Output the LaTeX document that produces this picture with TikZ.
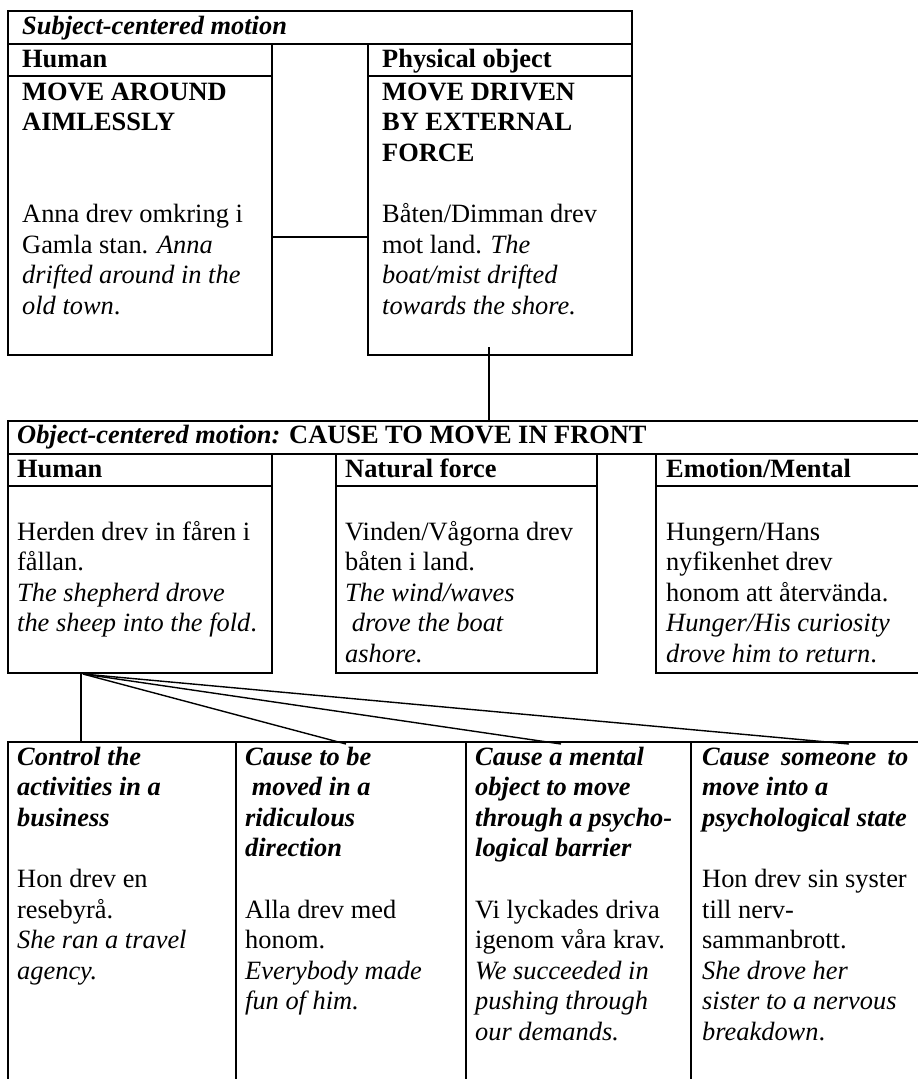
\documentclass[tikz,border=0pt]{standalone}
\usepackage{fontspec}
\setmainfont{Liberation Serif}
\newcommand\bodyfont{\fontsize{26.4}{30.6}\selectfont}
\newcommand\emphbi[1]{\textbf{\textit{#1}}}
\newcommand\linesof[1]{\begin{tabular}[t]{@{}l@{}}#1\end{tabular}}
\begin{document}
\begin{tikzpicture}[x=1pt,y=-1pt,
  cellbox/.style={draw, line width=2pt, rectangle, inner sep=0pt, anchor=north west},
  txt/.style={anchor=base west, inner sep=0pt, font=\bodyfont},
  link/.style={line width=1.4pt}]
\clip (0,0) rectangle (918,1079);
\fill[white] (0,0) rectangle (918,1079);

% ---- subject-centered motion ----
\node[cellbox, minimum width=624pt, minimum height=33pt] (title1) at (7,10) {};
\node[cellbox, minimum width=264pt, minimum height=32pt] (hum1h) at (7,43) {};
\node[cellbox, minimum width=264pt, minimum height=279pt] (hum1) at (7,75) {};
\node[cellbox, minimum width=264pt, minimum height=32pt] (phys1h) at (367,43) {};
\node[cellbox, minimum width=264pt, minimum height=279pt] (phys1) at (367,75) {};

\node[txt] (title1t) at (22,34) {\emphbi{Subject-centered motion}};
\node[txt] (hum1ht) at (22,67) {\textbf{Human}};
\node[txt] (phys1ht) at (382,67) {\textbf{Physical object}};
\node[txt] (hum1t) at (22,100) {\linesof{\textbf{MOVE AROUND}\\ \textbf{AIMLESSLY}\\ \\ \\
  Anna drev omkring i\\ Gamla stan. \textit{Anna}\\ \textit{drifted around in the}\\ \textit{old town}.}};
\node[txt] (phys1t) at (382,100) {\linesof{\textbf{MOVE DRIVEN}\\ \textbf{BY EXTERNAL}\\ \textbf{FORCE}\\ \\
  Båten/Dimman drev\\ mot land. \textit{The}\\ \textit{boat/mist drifted}\\ \textit{towards the shore.}}};

% ---- object-centered motion ----
\node[cellbox, minimum width=918pt, minimum height=33pt] (title2) at (7,420) {};
\node[cellbox, minimum width=264pt, minimum height=32pt] (hum2h) at (7,453) {};
\node[cellbox, minimum width=264pt, minimum height=187pt] (hum2) at (7,485) {};
\node[cellbox, minimum width=261pt, minimum height=32pt] (nat2h) at (335,453) {};
\node[cellbox, minimum width=261pt, minimum height=187pt] (nat2) at (335,485) {};
\node[cellbox, minimum width=270pt, minimum height=32pt] (emo2h) at (655,453) {};
\node[cellbox, minimum width=270pt, minimum height=187pt] (emo2) at (655,485) {};

\node[txt] (title2t) at (17,443) {\emphbi{Object-centered motion:} \textbf{CAUSE TO MOVE IN FRONT}};
\node[txt] (hum2ht) at (17,477) {\textbf{Human}};
\node[txt] (nat2ht) at (345,477) {\textbf{Natural force}};
\node[txt] (emo2ht) at (666,477) {\textbf{Emotion/Mental}};
\node[txt] (hum2t) at (17,540) {\linesof{Herden drev in fåren i\\ fållan.\\
  \textit{The shepherd drove}\\ \textit{the sheep into the fold}.}};
\node[txt] (nat2t) at (345,540) {\linesof{Vinden/Vågorna drev\\ båten i land.\\
  \textit{The wind/waves}\\ \hspace{0.25em}\textit{drove the boat}\\ \textit{ashore.}}};
\node[txt] (emo2t) at (666,540) {\linesof{Hungern/Hans\\ nyfikenhet drev\\ honom att återvända.\\
  \textit{Hunger/His curiosity}\\ \textit{drove him to return}.}};

% ---- senses ----
\node[cellbox, minimum width=228pt, minimum height=350pt] (col1) at (7,741) {};
\node[cellbox, minimum width=230pt, minimum height=350pt] (col2) at (235,741) {};
\node[cellbox, minimum width=225pt, minimum height=350pt] (col3) at (465,741) {};
\node[cellbox, minimum width=235pt, minimum height=350pt] (col4) at (690,741) {};

\node[txt] (col1t) at (17,765) {\linesof{\emphbi{Control the}\\ \emphbi{activities in a}\\ \emphbi{business}\\ \\
  Hon drev en\\ resebyrå.\\ \textit{She ran a travel}\\ \textit{agency.}}};
\node[txt] (col2t) at (245,765) {\linesof{\emphbi{Cause to be}\\ \hspace{0.25em}\emphbi{moved in a}\\ \emphbi{ridiculous}\\ \emphbi{direction}\\ \\
  Alla drev med\\ honom.\\ \textit{Everybody made}\\ \textit{fun of him.}}};
\node[txt] (col3t) at (475,765) {\linesof{\emphbi{Cause a mental}\\ \emphbi{object to move}\\
  \makebox[197pt][s]{\bfseries\itshape through a psycho-}\\ \emphbi{logical barrier}\\ \\
  Vi lyckades driva\\ igenom våra krav.\\ \textit{We succeeded in}\\ \textit{pushing through}\\ \textit{our demands.}}};
\node[txt] (col4t) at (702,765) {\linesof{\makebox[206pt][s]{\bfseries\itshape Cause someone to}\\ \emphbi{move into a}\\ \emphbi{psychological state}\\ \\
  Hon drev sin syster\\ till nerv-\\ sammanbrott.\\ \textit{She drove her}\\ \textit{sister to a nervous}\\ \textit{breakdown}.}};

% ---- connectors ----
\draw[link] ([yshift=-21.5pt]hum1.east) -- ([yshift=-21.5pt]phys1.west);
\draw[link] ([xshift=-11pt,yshift=9pt]phys1.south) -- ([xshift=-11pt]phys1.south |- title2.north);
\coordinate (fan) at ([xshift=-57pt]hum2.south);
\draw[link] ([xshift=-59pt]hum2.south) -- ([xshift=-59pt]hum2.south |- col1.north);
\draw[link] (fan) -- ([xshift=-5pt,yshift=-3pt]col2.north);
\draw[link] (fan) -- ([xshift=-17.5pt,yshift=-3pt]col3.north);
\draw[link] (fan) -- ([xshift=40.5pt,yshift=-3pt]col4.north);
\end{tikzpicture}
\end{document}
